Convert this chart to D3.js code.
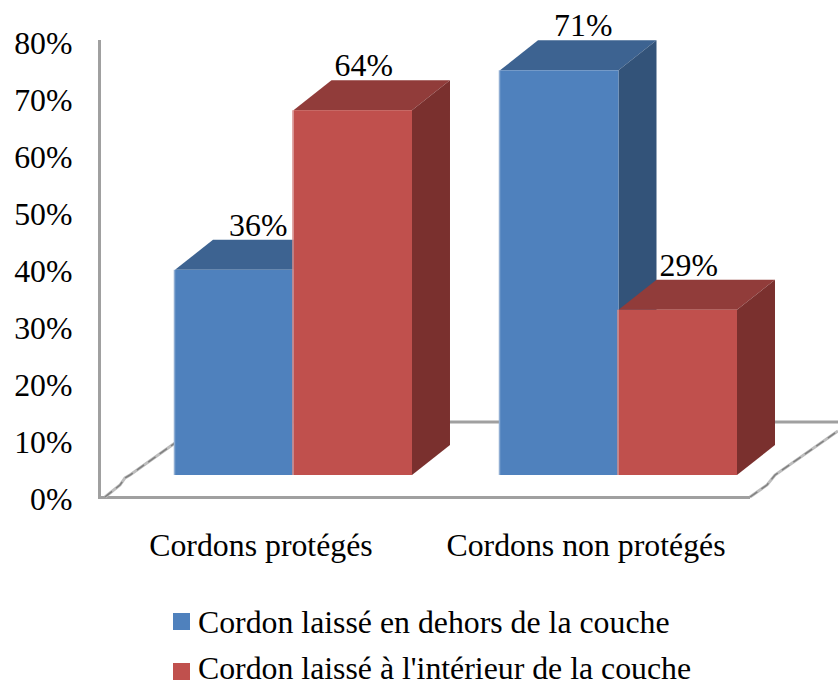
<!DOCTYPE html>
<html>
<head>
<meta charset="utf-8">
<script src="https://cdn.jsdelivr.net/npm/d3@7"></script>
<style>
  html, body { margin: 0; padding: 0; background: #fff; }
  text { font-family: "Liberation Serif", serif; fill: #000; }
</style>
</head>
<body>
<div id="chart-area"></div>
<script>
// Data
var categories = ["Cordons protégés", "Cordons non protégés"];
var seriesNames = ["Cordon laissé en dehors de la couche", "Cordon laissé à l'intérieur de la couche"];
var outsideValues = [36, 71];
var insideValues = [64, 29];
var tickValues = [0, 10, 20, 30, 40, 50, 60, 70, 80];

var colors = [
    {front: "#4f81bd", top: "#3d6391", side: "#335379", edge: "#8fadd3", labelShift: 24},
    {front: "#c0504d", top: "#913c3a", side: "#7a302e", edge: "#d68f8d", labelShift: 11}
];

// SVG drawing area
var width = 838, height = 686;
var depthX = 38, depthY = 30;
var floorY = 475;
var fontSize = 31.8;

var svg = d3.select("#chart-area").append("svg")
    .attr("width", width)
    .attr("height", height)
    .style("display", "block");

// bar scales, the bars stand a bit behind the front of the floor
var x0 = d3.scaleBand().domain(categories).range([175, 737]).paddingInner(0.2708);
var x1 = d3.scaleBand().domain([0, 1]).range([0, x0.bandwidth()]);
var y = d3.scaleLinear().domain([0, 80]).range([floorY, floorY - 5.7 * 80]);

// axis scale runs along the front of the floor
var yAxisScale = d3.scaleLinear().domain([0, 80]).range([498, 42]);

// floor and walls
var grey = "#a0a0a0";
svg.append("line").attr("x1", 175).attr("x2", 838).attr("y1", 422).attr("y2", 422)
    .attr("stroke", grey).attr("stroke-width", 3);
svg.append("line").attr("x1", 99).attr("x2", 750).attr("y1", 497.5).attr("y2", 497.5)
    .attr("stroke", grey).attr("stroke-width", 3);

[[[105, 497], [120, 485], [125, 478], [130, 475], [175, 443]],
 [[750, 497], [767, 485], [775, 475], [838, 431]]].forEach(function (pts) {
    svg.append("path").attr("d", d3.line()(pts))
        .attr("fill", "none").attr("stroke", "#bdbdbd").attr("stroke-width", 3);
    svg.append("path").attr("d", d3.line()(pts))
        .attr("fill", "none").attr("stroke", "#808080").attr("stroke-width", 1.5)
        .attr("stroke-dasharray", "9 5");
});

// y axis
var yAxis = svg.append("g")
    .attr("transform", "translate(99.5,0)")
    .call(d3.axisLeft(yAxisScale).tickValues(tickValues).tickSize(0).tickPadding(27)
        .tickFormat(function (d) { return d + "%"; }));
yAxis.select(".domain")
    .attr("d", "M0,40V499")
    .attr("stroke", grey).attr("stroke-width", 3);
yAxis.selectAll("text").attr("font-size", fontSize)
    .style("font-family", '"Liberation Serif", serif')
    .attr("dy", "0.36em");

// bars
var bars = [];
categories.forEach(function (c, i) {
    bars.push({cat: c, s: 0, value: outsideValues[i]});
    bars.push({cat: c, s: 1, value: insideValues[i]});
});

bars.forEach(function (d) {
    var left = x0(d.cat) + x1(d.s);
    var right = left + x1.bandwidth();
    var top = y(d.value);
    var c = colors[d.s];
    var g = svg.append("g").attr("class", "bar");

    g.append("path")
        .attr("d", d3.line()([[left, top], [left + depthX, top - depthY], [right + depthX, top - depthY], [right, top]]))
        .attr("fill", c.top);
    g.append("path")
        .attr("d", d3.line()([[right, top], [right + depthX, top - depthY], [right + depthX, floorY - depthY], [right, floorY]]))
        .attr("fill", c.side);
    g.append("rect")
        .attr("x", left).attr("y", top)
        .attr("width", x1.bandwidth()).attr("height", floorY - top)
        .attr("fill", c.front);
    // lighter edge on the left of the front face
    g.append("line")
        .attr("x1", left - 0.5).attr("x2", left - 0.5)
        .attr("y1", top).attr("y2", floorY)
        .attr("stroke", c.edge).attr("stroke-width", 1.5);
});

// value labels go on top of every bar
svg.selectAll(".value")
    .data(bars)
    .enter().append("text")
    .attr("class", "value")
    .attr("x", function (d) { return x0(d.cat) + x1(d.s) + x1.bandwidth() / 2 + colors[d.s].labelShift; })
    .attr("y", function (d) { return y(d.value) - depthY - 4; })
    .attr("text-anchor", "middle")
    .attr("font-size", fontSize)
    .text(function (d) { return d.value + "%"; });

// category labels
svg.selectAll(".cat")
    .data(categories)
    .enter().append("text")
    .attr("class", "cat")
    .attr("x", function (d) { return x0(d) + x0.bandwidth() / 2 - 32.5; })
    .attr("y", 556)
    .attr("text-anchor", "middle")
    .attr("font-size", fontSize)
    .text(function (d) { return d; });

// legend
var legend = svg.selectAll(".legend")
    .data(seriesNames)
    .enter().append("g")
    .attr("class", "legend")
    .attr("transform", function (d, i) { return "translate(173," + (613 + i * 50) + ")"; });

legend.append("rect")
    .attr("width", 17).attr("height", 17)
    .attr("fill", function (d, i) { return colors[i].front; });
legend.append("text")
    .attr("x", 25)
    .attr("y", function (d, i) { return i === 0 ? 20 : 16; }) // second line pulled up so it fits the page
    .attr("font-size", fontSize)
    .text(function (d) { return d; });
</script>
</body>
</html>
